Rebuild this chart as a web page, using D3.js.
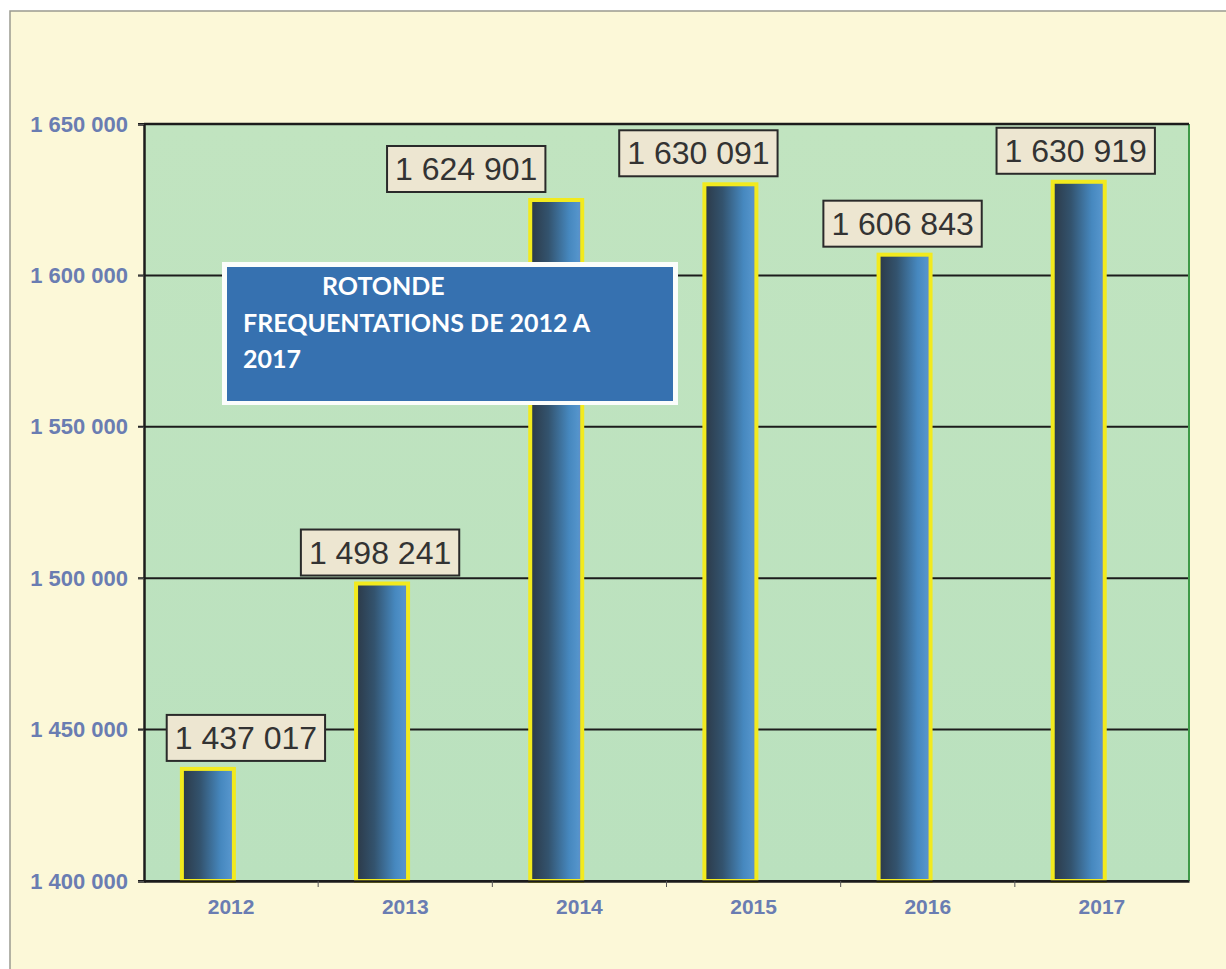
<!DOCTYPE html>
<html>
<head>
<meta charset="utf-8">
<script src="https://cdn.jsdelivr.net/npm/d3@7"></script>
<style>
  html, body { margin: 0; padding: 0; background: #fff; }
  svg { display: block; }
</style>
</head>
<body>
<div id="chart"></div>
<script>
// ── Data ─────────────────────────────────────────────────────────
const years = ['2012', '2013', '2014', '2015', '2016', '2017'];
const visits = [1437017, 1498241, 1624901, 1630091, 1606843, 1630919];
const yTicks = [1400000, 1450000, 1500000, 1550000, 1600000, 1650000];
const titleLines = ['ROTONDE', 'FREQUENTATIONS DE 2012 A', '2017'];
// hand-placed label nudges from the original (px, relative to bar centre)
const labelDx = [38, -2, -90, -32, -2, -3];

const W = 1226, H = 969;
const plot = { left: 144, right: 1189, top: 124, bottom: 881 };

const fmt = v => d3.format(',')(v).replace(/,/g, ' ');

const svg = d3.select('#chart').append('svg')
  .attr('width', W)
  .attr('height', H);

const defs = svg.append('defs');
const grad = defs.append('linearGradient')
  .attr('id', 'barGrad')
  .attr('x1', '0%').attr('x2', '100%').attr('y1', '0%').attr('y2', '0%');
[['0%', '#2c3947'], ['35%', '#33536e'], ['75%', '#4688bf'], ['92%', '#5494cb'], ['100%', '#6a86c2']]
  .forEach(([o, c]) => grad.append('stop').attr('offset', o).attr('stop-color', c));

const bg = defs.append('linearGradient')
  .attr('id', 'plotGrad')
  .attr('x1', '0%').attr('x2', '0%').attr('y1', '0%').attr('y2', '100%');
bg.append('stop').attr('offset', '0%').attr('stop-color', '#c1e4c0');
bg.append('stop').attr('offset', '100%').attr('stop-color', '#bae1be');

// ── Frame ────────────────────────────────────────────────────────
svg.append('rect')
  .attr('x', 10).attr('y', 11)
  .attr('width', W + 20).attr('height', H + 20)
  .attr('fill', '#fcf8d8')
  .attr('stroke', '#9a9a90')
  .attr('stroke-width', 1.5);

svg.append('rect')
  .attr('x', plot.left).attr('y', plot.top)
  .attr('width', plot.right - plot.left)
  .attr('height', plot.bottom - plot.top)
  .attr('fill', 'url(#plotGrad)');

// ── Scales ───────────────────────────────────────────────────────
const x = d3.scaleBand()
  .domain(years)
  .range([plot.left, plot.right]);

// second (empty) slot pushes the bar left of the category centre, as in the original
const sub = d3.scaleBand()
  .domain(['visits', 'none'])
  .range([0, x.bandwidth()])
  .paddingInner(0)
  .paddingOuter(0.675)
  .align(0.54);

const y = d3.scaleLinear()
  .domain([1400000, 1650000])
  .range([plot.bottom, plot.top]);

// Gridlines
svg.append('g')
  .selectAll('line')
  .data(yTicks)
  .join('line')
  .attr('x1', plot.left - 6)
  .attr('x2', plot.right)
  .attr('y1', d => y(d))
  .attr('y2', d => y(d))
  .attr('stroke', '#1c1c1c')
  .attr('stroke-width', 2);

// right edge of plot
svg.append('line')
  .attr('x1', plot.right).attr('x2', plot.right)
  .attr('y1', plot.top).attr('y2', plot.bottom)
  .attr('stroke', '#3f9a48')
  .attr('stroke-width', 2);

// ── Bars ─────────────────────────────────────────────────────────
const barW = sub.bandwidth();
const barX = i => x(years[i]) + sub('visits');

svg.append('g')
  .selectAll('rect')
  .data(visits)
  .join('rect')
  .attr('x', (d, i) => barX(i))
  .attr('y', d => y(d))
  .attr('width', barW)
  .attr('height', d => plot.bottom - y(d))
  .attr('fill', 'url(#barGrad)')
  .attr('stroke', '#f2ea1e')
  .attr('stroke-width', 4);

// ── Axes ─────────────────────────────────────────────────────────
const yAxis = svg.append('g')
  .attr('transform', `translate(${plot.left},0)`)
  .call(d3.axisLeft(y).tickValues(yTicks).tickFormat(fmt).tickSize(6).tickPadding(10));
yAxis.select('.domain').attr('stroke', '#1c1c1c').attr('stroke-width', 2.5);
yAxis.selectAll('.tick line').attr('stroke', '#555').attr('stroke-width', 1);
yAxis.selectAll('.tick text')
  .attr('fill', '#6a7db2')
  .style('font', 'bold 22px "Liberation Sans", Arial, sans-serif');

const xAxis = svg.append('g')
  .attr('transform', `translate(0,${plot.bottom})`)
  .call(d3.axisBottom(x).tickSize(0).tickPadding(18));
xAxis.select('.domain').attr('stroke', '#1c1c1c').attr('stroke-width', 2.5);
xAxis.selectAll('.tick text')
  .attr('fill', '#6a7db2')
  .style('font', 'bold 21px "Liberation Sans", Arial, sans-serif');

// category separators on the x axis
svg.append('g')
  .selectAll('line')
  .data(years.slice(1))
  .join('line')
  .attr('x1', d => x(d)).attr('x2', d => x(d))
  .attr('y1', plot.bottom).attr('y2', plot.bottom + 6)
  .attr('stroke', '#555')
  .attr('stroke-width', 1);

// top border
svg.append('line')
  .attr('x1', plot.left).attr('x2', plot.right)
  .attr('y1', plot.top).attr('y2', plot.top)
  .attr('stroke', '#1c1c1c')
  .attr('stroke-width', 2.5);

// ── Value labels ─────────────────────────────────────────────────
const labels = svg.append('g')
  .selectAll('g')
  .data(visits)
  .join('g')
  .attr('transform', (d, i) => `translate(${barX(i) + barW / 2 + labelDx[i]},${y(d) - 8})`);

const labelText = labels.append('text')
  .attr('text-anchor', 'middle')
  .attr('y', -12)
  .attr('fill', '#333')
  .style('font', '32px "Liberation Sans", Arial, sans-serif')
  .text(fmt);

labels.insert('rect', 'text')
  .each(function(d, i) {
    const tw = labelText.nodes()[i].getComputedTextLength();
    d3.select(this)
      .attr('x', -tw / 2 - 8)
      .attr('y', -46)
      .attr('width', tw + 16)
      .attr('height', 46);
  })
  .attr('fill', '#ede6d1')
  .attr('stroke', '#2a2a2a')
  .attr('stroke-width', 2);

// ── Title box ────────────────────────────────────────────────────
const tb = svg.append('g').attr('transform', 'translate(222,262)');
tb.append('rect')
  .attr('width', 456).attr('height', 143)
  .attr('fill', '#fbfdfb');
tb.append('rect')
  .attr('x', 5).attr('y', 5)
  .attr('width', 446).attr('height', 134)
  .attr('fill', '#3671b0');
tb.selectAll('text')
  .data(titleLines)
  .join('text')
  .attr('x', (d, i) => i === 0 ? 100 : 21)
  .attr('y', (d, i) => 33 + i * 36.5)
  .attr('fill', '#fff')
  .style('font', 'bold 25px Lato, "Open Sans", sans-serif')
  .text(d => d);
</script>
</body>
</html>
